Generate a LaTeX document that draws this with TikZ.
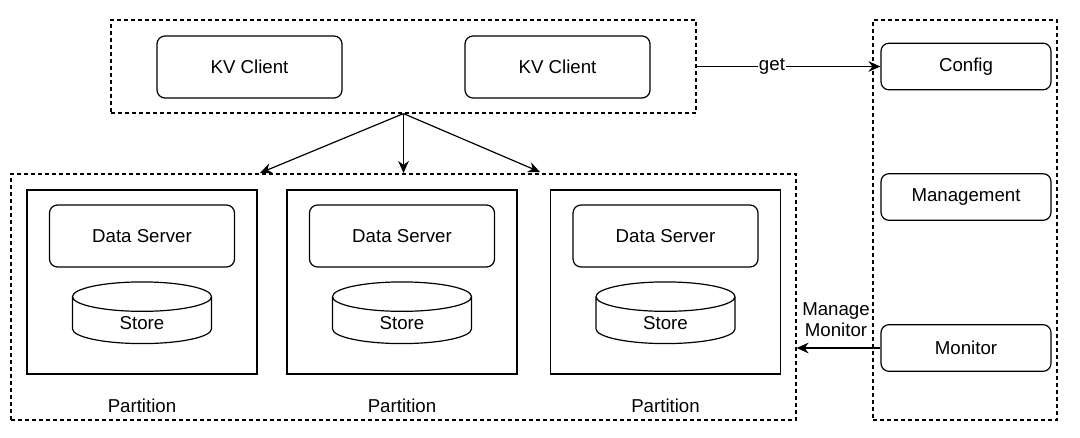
\documentclass[tikz,border=0pt]{standalone}
\usepackage{fontspec}
\setmainfont{Liberation Sans}
\usetikzlibrary{arrows.meta,shapes.geometric}
\begin{document}
\begin{tikzpicture}[x=0.75pt,y=-0.75pt, line width=0.9pt, >={Stealth[length=9pt,width=8pt]},
    every node/.style={font=\fontsize{14}{16}\selectfont},
    group/.style={draw, dash pattern=on 3pt off 2.25pt, line width=0.9pt},
    rbox/.style={draw, rounded corners=6pt, minimum width=138.75pt, minimum height=46.5pt},
    sbox/.style={draw, rounded corners=6pt, minimum width=127.5pt, minimum height=35pt},
    part/.style={draw, minimum width=172.5pt, minimum height=138pt},
    store/.style={draw, cylinder, shape border rotate=90, aspect=0.55, minimum width=104.25pt, minimum height=41pt}]
    \useasboundingbox (0,0) rectangle (1080,438);
    % clients
    \node [group, minimum width=438.75pt, minimum height=69.75pt] (clients) at (403.5,66.5) {};
    \node [rbox] (kv1) at (249.5,67) {KV Client};
    \node [rbox] (kv2) at (557.5,67) {KV Client};
    % meta side
    \node [group, minimum width=138pt, minimum height=300pt] (meta) at (965,220) {};
    \node [sbox] (config) at (966,66.5) {Config};
    \node [sbox] (mgmt) at (966,197) {Management};
    \node [sbox] (monitor) at (966,348) {Monitor};
    % data side
    \node [group, minimum width=588.75pt, minimum height=184.5pt] (cluster) at (403.5,297) {};
    \foreach \i/\x in {1/142,2/402,3/665.5} {
        \node [part] (p\i) at (\x,282) {};
        \node [rbox] (ds\i) at (\x,236) {Data Server};
        \node [store] (st\i) at (\x,323) {Store};
        \node (lbl\i) at (\x,406) {Partition};
    }
    \coordinate (in1) at (260,173);
    \coordinate (in2) at (403.5,173);
    \coordinate (in3) at (540,172);
    \node [align=center, font=\fontsize{14}{16}\selectfont] (mm) at (836,320) {Manage\\Monitor};
    % links
    \path[->] (clients.south) edge (in1) edge (in2) edge (in3);
    \path[->] (clients.east) edge node[pos=0.41, fill=white, inner sep=1pt] {get} (config.west);
    \path[->] (monitor.west) edge (monitor.west -| cluster.east);
\end{tikzpicture}
\end{document}
